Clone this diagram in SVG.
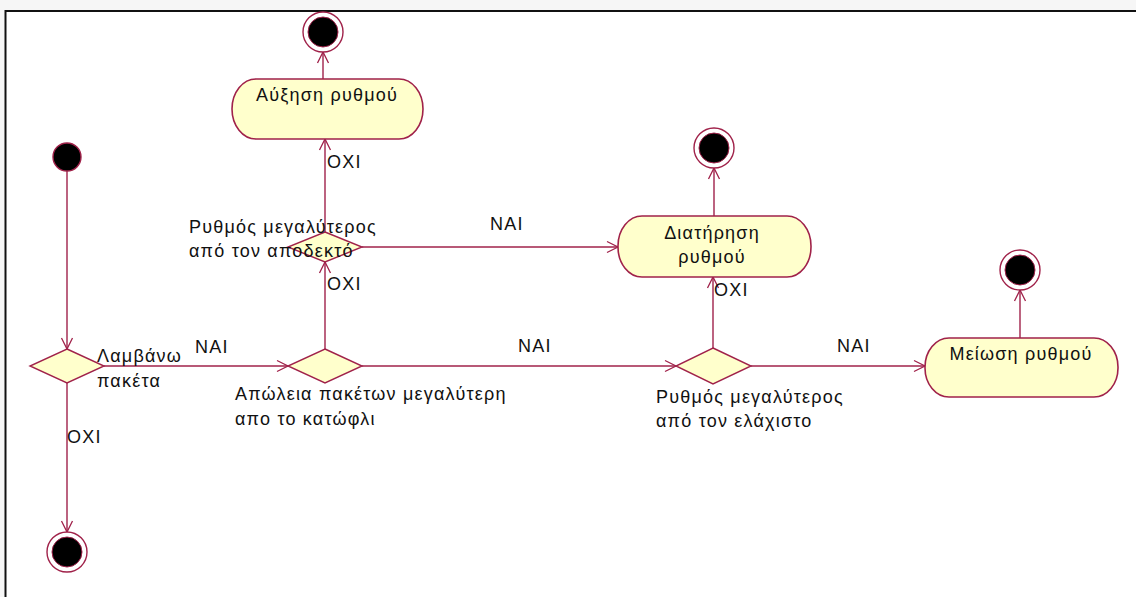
<svg xmlns="http://www.w3.org/2000/svg" width="1136" height="597" viewBox="0 0 1136 597">
<defs>
<style>
.frame{fill:none;stroke:#111;stroke-width:2}
.act{fill:#ffffcc;stroke:#a0224a;stroke-width:1.6}
.dec{fill:#ffffcc;stroke:#a0224a;stroke-width:1.4}
.start{fill:#000;stroke:#a0224a;stroke-width:1.4}
.endo{fill:#fff;stroke:#a0224a;stroke-width:1.4}
.endi{fill:#000;stroke:#a0224a;stroke-width:1}
.edge{fill:none;stroke:#a0224a;stroke-width:1.4}
text{font-family:"Liberation Sans",Arial,sans-serif;font-size:18px;letter-spacing:1.2px;fill:#111}
.c{text-anchor:middle}
</style>
<marker id="arr" markerWidth="14" markerHeight="14" refX="12" refY="7" orient="auto" markerUnits="userSpaceOnUse">
<path d="M1,1.5 L12,7 L1,12.5" fill="none" stroke="#a0224a" stroke-width="1.3"/>
</marker>
</defs>
<rect x="0" y="0" width="1136" height="597" fill="#fff"/>
<rect x="0" y="0" width="1136" height="10" fill="#f6f6f6"/>
<rect x="0" y="0" width="5" height="597" fill="#f6f6f6"/>
<path class="frame" d="M5.5,597 L5.5,11 L1136,11"/>

<g id="connectors">
<path class="edge" d="M323,79 L323,52" marker-end="url(#arr)"/>
<path class="edge" d="M325,232 L325,139" marker-end="url(#arr)"/>
<path class="edge" d="M362,247 L618,247" marker-end="url(#arr)"/>
<path class="edge" d="M714,216 L714,168" marker-end="url(#arr)"/>
<path class="edge" d="M713,349 L713,277" marker-end="url(#arr)"/>
<path class="edge" d="M1020,338 L1020,290" marker-end="url(#arr)"/>
<path class="edge" d="M67,171 L67,349" marker-end="url(#arr)"/>
<path class="edge" d="M104,366 L288,366" marker-end="url(#arr)"/>
<path class="edge" d="M67,383 L67,532" marker-end="url(#arr)"/>
<path class="edge" d="M325,349 L325,262" marker-end="url(#arr)"/>
<path class="edge" d="M362,366 L676,366" marker-end="url(#arr)"/>
<path class="edge" d="M751,366 L925,366" marker-end="url(#arr)"/>
<text x="327" y="168">ΟΧΙ</text>
<text x="490" y="230">ΝΑΙ</text>
<text x="714" y="296">ΟΧΙ</text>
<text x="195" y="353">ΝΑΙ</text>
<text x="67" y="443">ΟΧΙ</text>
<text x="327" y="290">ΟΧΙ</text>
<text x="518" y="352">ΝΑΙ</text>
<text x="837" y="352">ΝΑΙ</text>
</g>

<g id="start"><circle class="start" cx="67" cy="157" r="14"/></g>
<g id="end-top"><circle class="endo" cx="323" cy="32" r="20"/><circle class="endi" cx="323" cy="32" r="15"/></g>
<g id="end-mid"><circle class="endo" cx="714" cy="148" r="20"/><circle class="endi" cx="714" cy="148" r="15"/></g>
<g id="end-right"><circle class="endo" cx="1020" cy="270" r="20"/><circle class="endi" cx="1020" cy="270" r="15"/></g>
<g id="end-bottom"><circle class="endo" cx="67" cy="552" r="20"/><circle class="endi" cx="67" cy="552" r="15"/></g>

<g id="act-increase"><rect class="act" x="232" y="79" width="191" height="60" rx="24" ry="30"/><text class="c" x="327" y="101">Αύξηση ρυθμού</text></g>
<g id="act-keep"><rect class="act" x="618" y="216" width="193" height="61" rx="24" ry="30"/><text class="c" x="712" y="239">Διατήρηση</text><text class="c" x="712" y="263">ρυθμού</text></g>
<g id="act-decrease"><rect class="act" x="925" y="338" width="193" height="59" rx="24" ry="29"/><text class="c" x="1021" y="360">Μείωση ρυθμού</text></g>

<g id="dec-accept"><path class="dec" d="M325,232 L362,247 L325,262 L288,247 Z"/><text x="189" y="233">Ρυθμός μεγαλύτερος</text><text x="189" y="257">από τον αποδεκτό</text></g>
<g id="dec-receive"><path class="dec" d="M67,349 L104,366 L67,383 L30,366 Z"/><text x="97" y="362">Λαμβάνω</text><text x="97" y="387">πακέτα</text></g>
<g id="dec-loss"><path class="dec" d="M325,349 L362,366 L325,383 L288,366 Z"/><text x="235" y="400">Απώλεια πακέτων μεγαλύτερη</text><text x="235" y="425">απο το κατώφλι</text></g>
<g id="dec-min"><path class="dec" d="M713,348 L751,366 L713,384 L676,366 Z"/><text x="656" y="403">Ρυθμός μεγαλύτερος</text><text x="656" y="427">από τον ελάχιστο</text></g>
</svg>
